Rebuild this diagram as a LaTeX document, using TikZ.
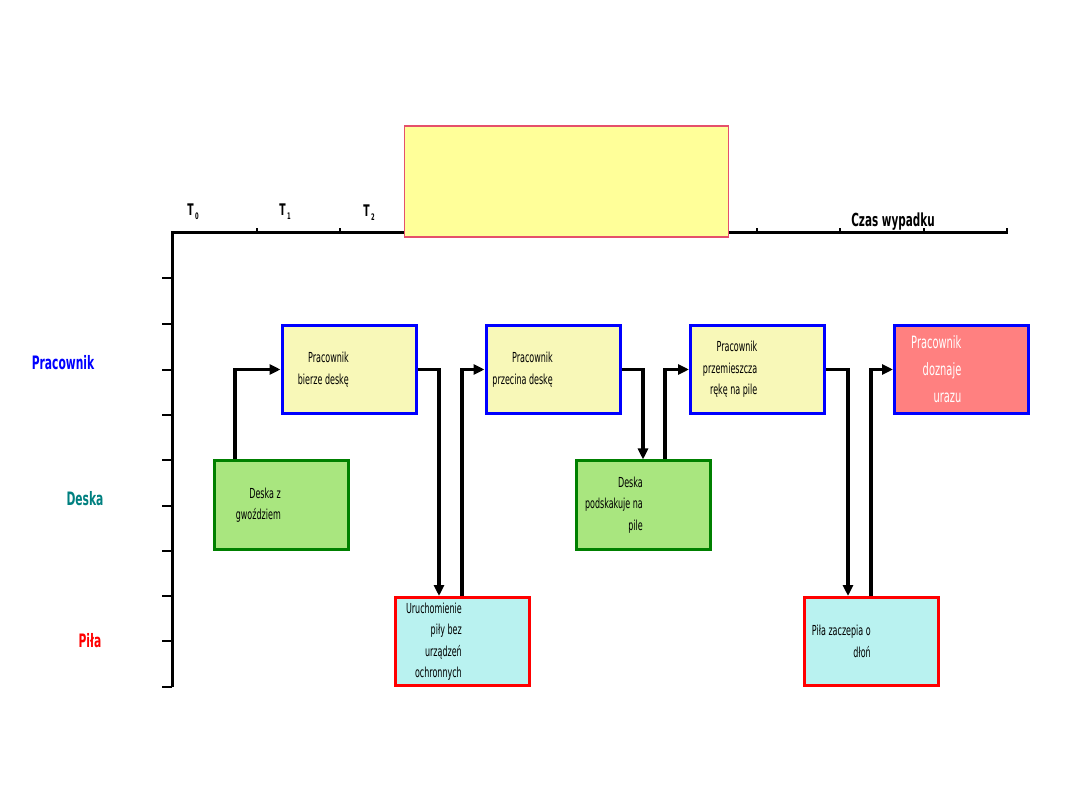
\documentclass[tikz,border=0pt]{standalone}
\usepackage{fontspec}
\setmainfont{DejaVu Sans}
\newfontfamily\cnd[FakeStretch=0.58]{DejaVu Sans}
\usetikzlibrary{arrows.meta}
\definecolor{bblue}{HTML}{0000FF}
\definecolor{bgreen}{HTML}{008000}
\definecolor{bred}{HTML}{FF0000}
\definecolor{fyel}{HTML}{F8F8B8}
\definecolor{fgreen}{HTML}{A9E67F}
\definecolor{fcyan}{HTML}{B9F2F0}
\definecolor{fpink}{HTML}{FF8080}
\definecolor{bigyel}{HTML}{FFFF99}
\definecolor{bigbord}{HTML}{E5506B}
\definecolor{teal2}{HTML}{008080}
\begin{document}
\begin{tikzpicture}[x=1pt,y=-1pt,
  box/.style={draw, line width=3pt, minimum width=134pt, minimum height=88pt, inner sep=0pt},
  pbox/.style={box, draw=bblue, fill=fyel},
  dbox/.style={box, draw=bgreen, fill=fgreen},
  sbox/.style={box, draw=bred, fill=fcyan},
  txt/.style={anchor=east, inner sep=0pt, align=right, font=\cnd\fontsize{13.8}{21.5}\selectfont},
  lane/.style={font=\cnd\bfseries\fontsize{18.5}{20}\selectfont, inner sep=0pt},
  tl/.style={font=\cnd\bfseries\fontsize{16}{17}\selectfont, inner sep=0pt},
  conn/.style={line width=3.5pt, -{Triangle[length=11pt,width=10pt]}},
  axis/.style={line width=3pt}
]
\useasboundingbox (0,0) rectangle (1080,810);

% axes
\draw[axis] (172,687) -- (172,233) -- (1008,233);
\foreach \xx in {257,340,424,508,591,675,757,840,924,1007}
  \draw[line width=2.5pt] (\xx,233) -- (\xx,228);
\foreach \yy in {278,324,370,415,460,506,551,596,641,687}
  \draw[line width=2.5pt] (172,\yy) -- (162,\yy);

% time labels
\node[tl] (t0) at (193,212) {T\kern1.5pt\raisebox{-4pt}{\fontsize{9}{10}\selectfont 0}};
\node[tl] (t1) at (285,212) {T\kern1.5pt\raisebox{-4pt}{\fontsize{9}{10}\selectfont 1}};
\node[tl] (t2) at (369,213) {T\kern1.5pt\raisebox{-4pt}{\fontsize{9}{10}\selectfont 2}};
\node[tl, font=\cnd\bfseries\fontsize{18}{20}\selectfont] (czas) at (893,222) {Czas wypadku};

% yellow box
\node[draw=bigbord, fill=bigyel, line width=1.5pt, minimum width=324pt, minimum height=111pt, inner sep=0pt] (yb) at (566.5,181.5) {};

% lane labels
\node[lane, text=bblue] (lp) at (63,363) {Pracownik};
\node[lane, text=teal2] (ld) at (85,499) {Deska};
\node[lane, text=bred] (ls) at (90,641) {Piła};

% boxes
\node[pbox] (b1) at (349,369.5) {};
\node[pbox] (b2) at (553,369.5) {};
\node[pbox] (b3) at (757.5,369.5) {};
\node[box, draw=bblue, fill=fpink] (b4) at (961.5,369.5) {};
\node[dbox] (d1) at (281,505) {};
\node[dbox] (d2) at (643,505) {};
\node[sbox] (p1) at (462,641.5) {};
\node[sbox] (p2) at (871,641.5) {};

% texts
\node[txt] (tb1) at (b1.center) {Pracownik\\bierze deskę};
\node[txt] (tb2) at (b2.center) {Pracownik\\przecina deskę};
\node[txt] (tb3) at (b3.center) {Pracownik\\przemieszcza\\rękę na pile};
\node[txt, text=white, font=\cnd\fontsize{17}{27}\selectfont] (tb4) at (b4.center) {Pracownik\\doznaje\\urazu};
\node[txt] (td1) at (d1.center) {Deska z\\gwoździem};
\node[txt] (td2) at (d2.center) {Deska\\podskakuje na\\pile};
\node[txt] (tp1) at (p1.center) {Uruchomienie\\piły bez\\urządzeń\\ochronnych};
\node[txt] (tp2) at (p2.center) {Piła zaczepia o\\dłoń};

% connectors
\draw[conn] ([xshift=-46pt]d1.north) |- (b1.west);
\draw[conn] (b1.east) -| ([xshift=-23pt]p1.north);
\draw[conn] (p1.north) |- (b2.west);
\draw[conn] (b2.east) -| (d2.north);
\draw[conn] ([xshift=22pt]d2.north) |- (b3.west);
\draw[conn] (b3.east) -| ([xshift=-23pt]p2.north);
\draw[conn] (p2.north) |- (b4.west);
\end{tikzpicture}
\end{document}
